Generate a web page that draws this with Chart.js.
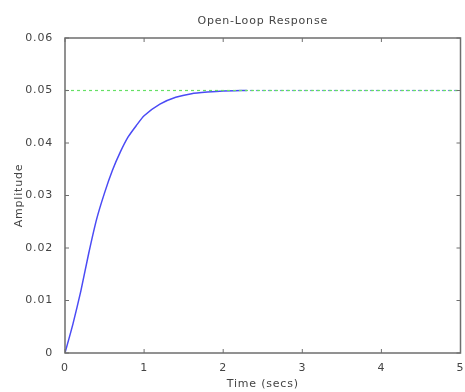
<!DOCTYPE html>
<html>
<head>
<meta charset="utf-8">
<script src="https://cdn.jsdelivr.net/npm/chart.js@4/dist/chart.umd.min.js"></script>
<style>
  body { margin: 0; background: #fff; }
  #wrap { width: 465px; height: 392px; }
</style>
</head>
<body>
<div id="wrap"><canvas id="grafico"></canvas></div>
<script>
// step response
var tempo = [0, 0.1, 0.2, 0.3, 0.4, 0.5, 0.6, 0.7, 0.8, 0.9, 1.0, 1.2, 1.4, 1.6, 1.8, 2.0, 2.3];
var amplitude = [0, 0.0055, 0.0118, 0.019, 0.0255, 0.0305, 0.0348, 0.0383, 0.0412, 0.0433, 0.0452, 0.0474, 0.0487, 0.0494, 0.0497, 0.0499, 0.05];
var valorFinal = 0.05;
var xTicks = [0, 1, 2, 3, 4, 5];
var yTicks = [0, 0.01, 0.02, 0.03, 0.04, 0.05, 0.06];

var curva = tempo.map(function (t, i) { return { x: t, y: amplitude[i] }; });
var fimCurva = tempo[tempo.length - 1];

const fonte = { family: 'DejaVu Sans', size: 11, weight: 'normal' };

// box + inward tick marks, matlab style
const caixa = {
  id: 'caixa',
  beforeDraw(chart) {
    chart.ctx.letterSpacing = '0.8px';
  },
  afterDatasetsDraw(chart) {
    const c = chart.ctx, a = chart.chartArea;
    const sx = chart.scales.x, sy = chart.scales.y;
    c.save();
    c.strokeStyle = '#6e6e6e';
    c.lineWidth = 1.5;
    c.strokeRect(a.left, a.top, a.right - a.left, a.bottom - a.top);
    c.lineWidth = 1;
    c.beginPath();
    xTicks.forEach(function (v) {
      const px = sx.getPixelForValue(v);
      c.moveTo(px, a.bottom); c.lineTo(px, a.bottom - 4);
      c.moveTo(px, a.top); c.lineTo(px, a.top + 4);
    });
    yTicks.forEach(function (v) {
      const py = sy.getPixelForValue(v);
      c.moveTo(a.left, py); c.lineTo(a.left + 4, py);
      c.moveTo(a.right, py); c.lineTo(a.right - 4, py);
    });
    c.stroke();
    c.restore();
  }
};

new Chart(document.getElementById("grafico"), {
  type: 'scatter',
  data: {
    datasets: [
      {
        label: "Final",
        data: [{ x: 0, y: valorFinal }, { x: 5, y: valorFinal }],
        showLine: true,
        borderColor: '#66e066',
        borderWidth: 1.2,
        borderDash: [3, 3],
        pointRadius: 0
      },
      {
        label: "Final2",
        data: [{ x: fimCurva, y: valorFinal }, { x: 5, y: valorFinal }],
        showLine: true,
        borderColor: '#7a7af0',
        borderWidth: 1.2,
        borderDash: [3, 3],
        borderDashOffset: 3,
        pointRadius: 0
      },
      {
        label: "Resposta",
        data: curva,
        showLine: true,
        borderColor: '#4b4bf5',
        borderWidth: 1.5,
        tension: 0.2,
        pointRadius: 0
      }
    ]
  },
  options: {
    responsive: true,
    maintainAspectRatio: false,
    animation: false,
    layout: { padding: { left: 0, right: 3, top: 0, bottom: 0 } },
    plugins: {
      legend: { display: false },
      tooltip: { enabled: false }
    },
    scales: {
      topo: {
        type: 'linear',
        position: 'top',
        min: 0, max: 5,
        afterFit: function (s) { s.height = 38; },
        grid: { display: false },
        border: { display: false },
        ticks: { display: false },
        title: {
          display: true, text: 'Open-Loop Response', color: '#444',
          font: fonte,
          padding: { top: 15, bottom: 0 }
        }
      },
      x: {
        type: 'linear',
        min: 0, max: 5,
        afterBuildTicks: function (s) { s.ticks = xTicks.map(function (v) { return { value: v }; }); },
        afterFit: function (s) { s.height = 39; },
        grid: { display: false },
        border: { display: false },
        ticks: {
          color: '#444', padding: 1,
          font: fonte,
          callback: function (v) { return String(v); }
        },
        title: {
          display: true, text: 'Time (secs)', color: '#444',
          font: fonte,
          padding: { top: 0, bottom: 1 }
        }
      },
      y: {
        type: 'linear',
        min: 0, max: 0.06,
        afterBuildTicks: function (s) { s.ticks = yTicks.map(function (v) { return { value: v }; }); },
        afterFit: function (s) { s.width = 65; },
        grid: { display: false },
        border: { display: false },
        ticks: {
          color: '#444', padding: 4,
          font: fonte,
          callback: function (v) { return v === 0 ? '0' : v.toFixed(2); }
        },
        title: {
          display: true, text: 'Amplitude', color: '#444',
          font: fonte,
          padding: { top: 13, bottom: 0 }
        }
      }
    }
  },
  plugins: [caixa]
});
</script>
</body>
</html>
